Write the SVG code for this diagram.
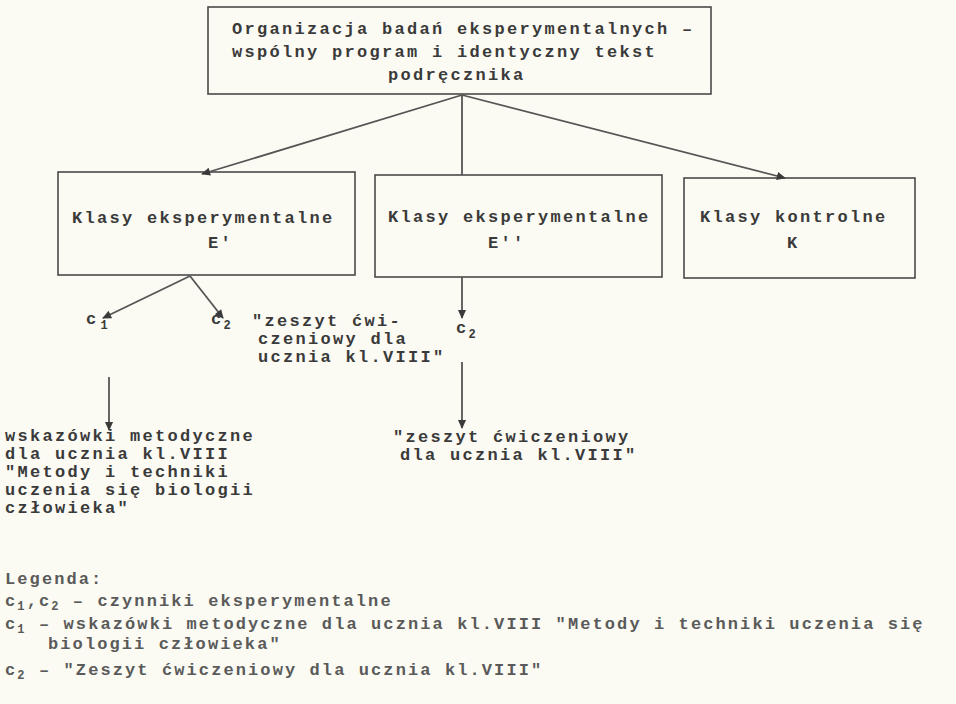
<svg xmlns="http://www.w3.org/2000/svg" width="956" height="704" viewBox="0 0 956 704">
<defs>
<style>
.t{font-family:"Liberation Mono","DejaVu Sans Mono",monospace;font-size:17px;font-weight:bold;letter-spacing:2.3px;fill:#3a3a3a}
.l{font-family:"Liberation Mono","DejaVu Sans Mono",monospace;font-size:17px;font-weight:bold;letter-spacing:2.1px;fill:#5a5a5a}
.s{font-size:12px}
.box{fill:none;stroke:#4a4a4a;stroke-width:1.6}
.c{fill:none;stroke:#555;stroke-width:1.8}
</style>
<marker id="ah" viewBox="0 0 10 10" refX="9" refY="5" markerWidth="14" markerHeight="9" orient="auto" markerUnits="userSpaceOnUse">
<path d="M0,0.5 L10,5 L0,9.5 z" fill="#3a3a3a"/>
</marker>
</defs>
<rect x="0" y="0" width="956" height="704" fill="#fbfaf3"/>
<g id="top">
<rect class="box" x="208" y="7" width="503" height="87"/>
<text class="t" x="232" y="34">Organizacja badań eksperymentalnych –</text>
<text class="t" x="232" y="57">wspólny program i identyczny tekst</text>
<text class="t" x="388" y="80">podręcznika</text>
</g>
<g id="e1">
<rect class="box" x="58" y="172" width="297" height="103"/>
<text class="t" x="72" y="223">Klasy eksperymentalne</text>
<text class="t" x="208" y="248">E′</text>
</g>
<g id="e2">
<rect class="box" x="375" y="175" width="287" height="102"/>
<text class="t" x="388" y="222">Klasy eksperymentalne</text>
<text class="t" x="488" y="248">E′′</text>
</g>
<g id="k">
<rect class="box" x="684" y="178" width="231" height="100"/>
<text class="t" x="700" y="222">Klasy kontrolne</text>
<text class="t" x="787" y="248">K</text>
</g>
<g id="c1a">
<text class="t" x="86" y="324">c<tspan class="s" dx="2" dy="5">1</tspan></text>
</g>
<g id="c2a">
<text class="t" x="211" y="324">c<tspan class="s" dx="0" dy="5">2</tspan></text>
<text class="t" x="252" y="326">"zeszyt ćwi-</text>
<text class="t" x="258" y="344">czeniowy dla</text>
<text class="t" x="258" y="362">ucznia kl.VIII"</text>
</g>
<g id="c1text">
<text class="t" x="5" y="441">wskazówki metodyczne</text>
<text class="t" x="5" y="459">dla ucznia kl.VIII</text>
<text class="t" x="5" y="477">"Metody i techniki</text>
<text class="t" x="5" y="495">uczenia się biologii</text>
<text class="t" x="5" y="513">człowieka"</text>
</g>
<g id="c2b">
<text class="t" x="456" y="333">c<tspan class="s" dx="0" dy="5">2</tspan></text>
</g>
<g id="c2text">
<text class="t" x="393" y="442">"zeszyt ćwiczeniowy</text>
<text class="t" x="400" y="460">dla ucznia kl.VIII"</text>
</g>
<g id="connectors">
<line class="c" x1="462" y1="95" x2="202" y2="174" marker-end="url(#ah)"/>
<line class="c" x1="462" y1="95" x2="462" y2="175"/>
<line class="c" x1="462" y1="95" x2="785" y2="178" marker-end="url(#ah)"/>
<line class="c" x1="190" y1="276" x2="103" y2="318" marker-end="url(#ah)"/>
<line class="c" x1="190" y1="276" x2="223" y2="318" marker-end="url(#ah)"/>
<line class="c" x1="109" y1="377" x2="109" y2="430" marker-end="url(#ah)"/>
<line class="c" x1="462" y1="277" x2="462" y2="318" marker-end="url(#ah)"/>
<line class="c" x1="462" y1="362" x2="462" y2="428" marker-end="url(#ah)"/>
</g>
<g id="legend">
<text class="l" x="5" y="584">Legenda:</text>
<text class="l" x="5" y="606">c<tspan class="s" dy="4">1</tspan><tspan dy="-4">,c</tspan><tspan class="s" dy="4">2</tspan><tspan dy="-4"> – czynniki eksperymentalne</tspan></text>
<text class="l" x="5" y="629">c<tspan class="s" dy="4">1</tspan><tspan dy="-4"> – wskazówki metodyczne dla ucznia kl.VIII "Metody i techniki uczenia się</tspan></text>
<text class="l" x="48" y="649">biologii człowieka"</text>
<text class="l" x="5" y="675">c<tspan class="s" dy="4">2</tspan><tspan dy="-4"> – "Zeszyt ćwiczeniowy dla ucznia kl.VIII"</tspan></text>
</g>
</svg>
